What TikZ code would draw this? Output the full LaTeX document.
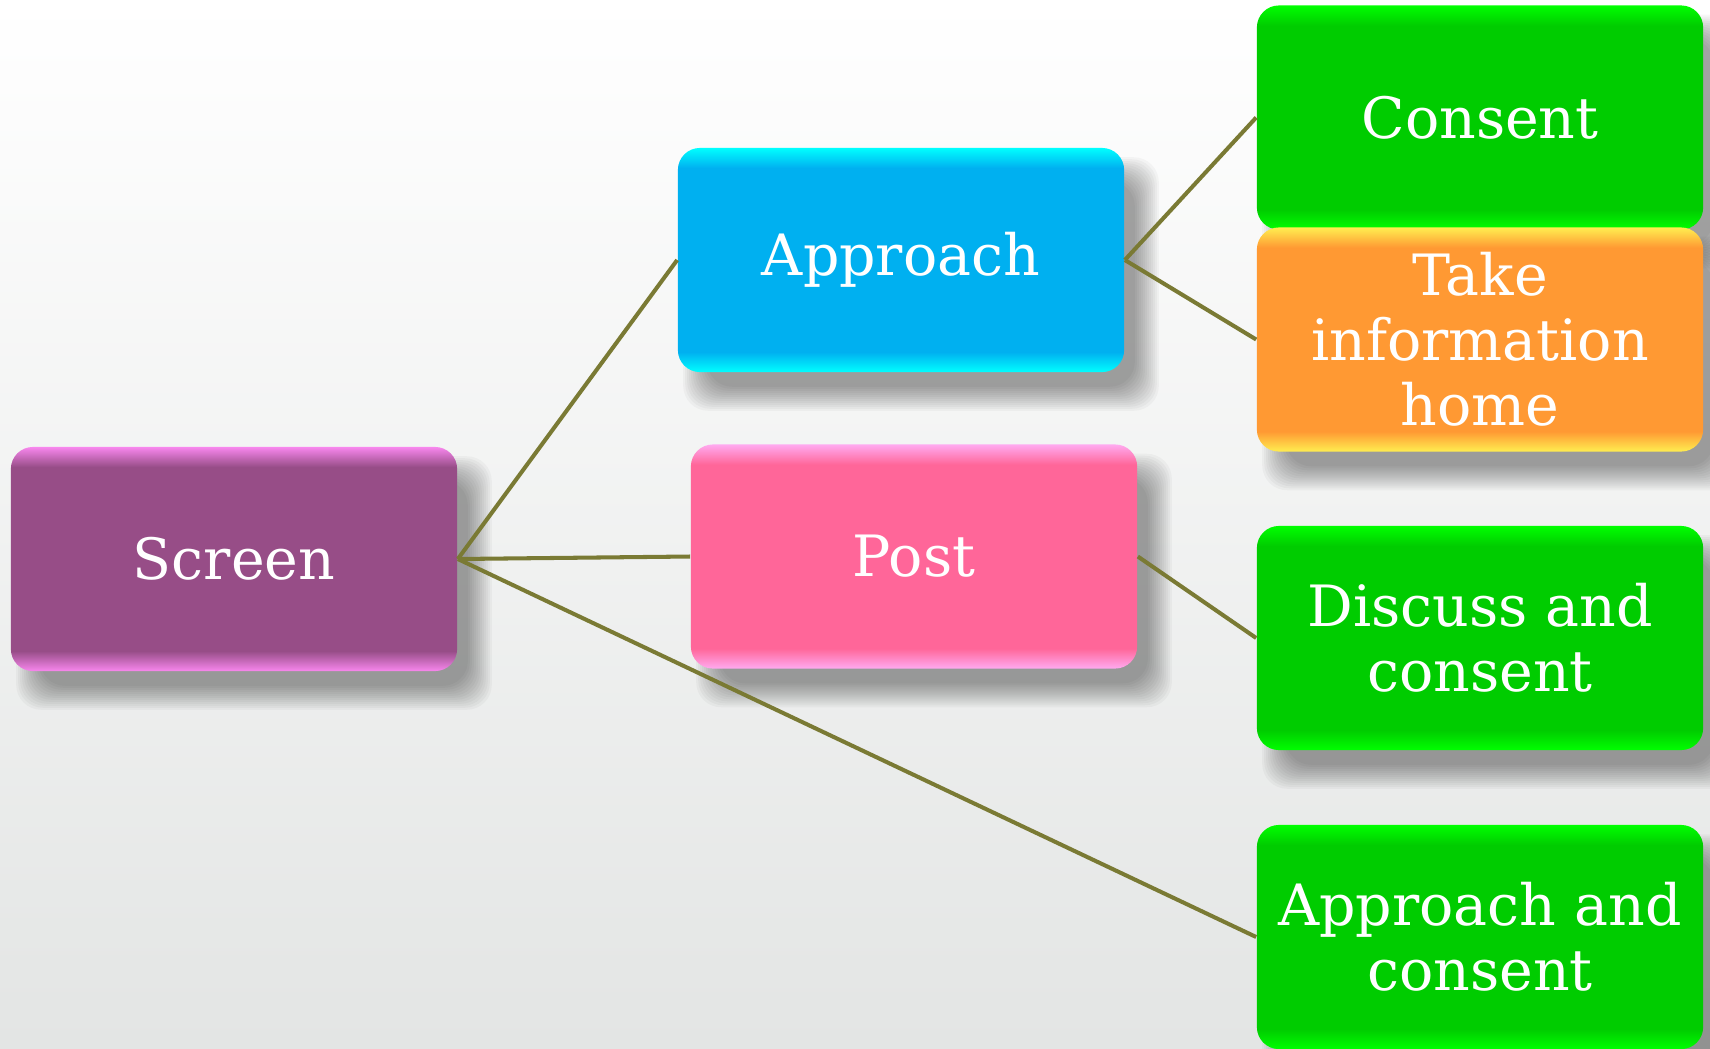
\documentclass[tikz,border=0pt]{standalone}
\usepackage{fontspec}
\setmainfont{DejaVu Serif}
\usetikzlibrary{backgrounds}
\pgfdeclarelayer{backdrop}
\pgfsetlayers{backdrop,background,main}

\definecolor{bgmid}{RGB}{249,249,249}
\definecolor{bgbot}{RGB}{227,229,228}
\definecolor{linkcol}{RGB}{122,122,52}
\definecolor{scrbase}{RGB}{151,77,135}
\definecolor{scrglow}{RGB}{248,135,238}
\definecolor{appbase}{RGB}{0,176,240}
\definecolor{appglow}{RGB}{0,255,255}
\definecolor{postbase}{RGB}{255,102,153}
\definecolor{postglow}{RGB}{255,170,240}
\definecolor{grnbase}{RGB}{0,204,0}
\definecolor{grnglow}{RGB}{0,255,0}
\definecolor{orgbase}{RGB}{255,153,51}
\definecolor{orgglow}{RGB}{255,238,80}

\newcommand\bevelshade[3]{%
  \pgfdeclareverticalshading{#1}{100bp}{color(0bp)=(#3); color(25bp)=(#3);
    color(29.5bp)=(#2); color(70.5bp)=(#2); color(75bp)=(#3); color(100bp)=(#3)}}
\bevelshade{scrshade}{scrbase}{scrglow}
\bevelshade{appshade}{appbase}{appglow}
\bevelshade{postshade}{postbase}{postglow}
\bevelshade{grnshade}{grnbase}{grnglow}
\bevelshade{orgshade}{orgbase}{orgglow}

\begin{document}
\begin{tikzpicture}[x=0.01cm, y=-0.01cm,
	box/.style={shade, shading=#1, rounded corners=0.22cm, minimum width=4.46cm,
		minimum height=2.24cm, inner sep=0pt, text=white, align=center,
		font=\fontsize{16.2pt}{18.5pt}\selectfont},
	softshadow/.style={fill=black, opacity=0.03, rounded corners=0.25cm},
	link/.style={draw=linkcol, line width=1.15pt}]
	\begin{pgfonlayer}{backdrop}
		\shade[top color=white, middle color=bgmid, bottom color=bgbot] (0,0) rectangle (1710,1048);
	\end{pgfonlayer}
	\useasboundingbox (0,0) rectangle (1710,1048);
	\node[box=scrshade] (screen) at (234,559) {Screen};
	\node[box=appshade] (approach) at (901,260) {Approach};
	\node[box=postshade] (post) at (914,556.5) {Post};
	\node[box=grnshade] (consent) at (1480,117.5) {Consent};
	\node[box=orgshade] (takehome) at (1480,339.5) {Take\\information\\home};
	\node[box=grnshade] (discuss) at (1480,638) {Discuss and\\consent};
	\node[box=grnshade] (appconsent) at (1480,937) {Approach and\\consent};
	\begin{scope}[on background layer]
		\foreach \b in {screen,approach,post,consent,takehome,discuss,appconsent}
			\foreach \e in {14,12,...,-10}
				\fill[softshadow] ([shift={(20-\e,24-\e)}]\b.north west) rectangle ([shift={(20+\e,24+\e)}]\b.south east);
	\end{scope}
	\draw[link] (screen.east) -- (approach.west);
	\draw[link] (screen.east) -- (post.west);
	\draw[link] (screen.east) -- (appconsent.west);
	\draw[link] (approach.east) -- (consent.west);
	\draw[link] (approach.east) -- (takehome.west);
	\draw[link] (post.east) -- (discuss.west);
\end{tikzpicture}
\end{document}
